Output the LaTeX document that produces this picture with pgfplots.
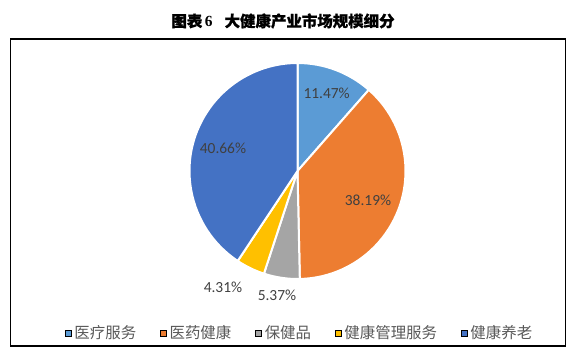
\documentclass[border=0pt]{standalone}
\usepackage{fontspec}
\setmainfont{Carlito}
\newfontfamily\cjk{Noto Sans CJK SC}
\newfontfamily\cjkt{Noto Sans CJK SC}[BoldFeatures={FakeBold=0.8}]
\newfontfamily\serifb{Liberation Serif}
\usepackage{pgfplots}
\usepackage{pgfplotstable}
\pgfplotsset{compat=1.18}
\definecolor{pie0}{HTML}{5B9BD5}
\definecolor{pie1}{HTML}{ED7D31}
\definecolor{pie2}{HTML}{A5A5A5}
\definecolor{pie3}{HTML}{FFC000}
\definecolor{pie4}{HTML}{4472C4}
\definecolor{labgray}{HTML}{404040}
\definecolor{leggray}{HTML}{595959}
\pgfplotstableread{
idx value
0 11.47
1 38.19
2 5.37
3 4.31
4 40.66
}\piedata
\begin{document}
\begin{tikzpicture}
\useasboundingbox (0bp,0bp) rectangle (573bp,352bp);
% angles from the data, clockwise from 12 o'clock
\def\acc{90}
\pgfplotsforeachungrouped \i in {0,...,4}{%
  \pgfplotstablegetelem{\i}{value}\of\piedata
  \pgfmathsetmacro\nxt{\acc-3.6*\pgfplotsretval}%
  \expandafter\xdef\csname s\i\endcsname{\acc}%
  \expandafter\xdef\csname e\i\endcsname{\nxt}%
  \global\let\acc\nxt
}
\node[font=\cjkt\bfseries\fontsize{15.5}{18}\selectfont, anchor=center] at (283bp,331bp)
  {图表\,{\serifb\bfseries 6}\hspace{12bp}大健康产业市场规模细分};
\draw[black, line width=1.3bp] (10.5bp,6bp) rectangle (565.7bp,313bp);
\begin{axis}[
  at={(297.5bp,181bp)}, anchor=origin,
  x=108bp, y=108bp,
  xmin=-1.2, xmax=1.2, ymin=-1.2, ymax=1.2,
  hide axis, clip=false,
  legend columns=5,
  legend image code/.code={\fill[#1] (0bp,-3bp) rectangle (6bp,3bp);},
  legend style={at={(axis cs:0.02,-1.5)}, anchor=center, draw=none, fill=none,
    font=\cjk\fontsize{15.5}{18}\selectfont, text=leggray, inner sep=0pt,
    /tikz/every even column/.append style={column sep=22bp},
    /tikz/every odd column/.append style={column sep=1bp}},
]
\pgfplotsinvokeforeach{0,...,4}{%
  \fill[fill=pie#1, draw=white, line width=2bp, line join=round]
    (axis cs:0,0) -- (axis cs:{cos(\csname s#1\endcsname)},{sin(\csname s#1\endcsname)})
    arc[start angle=\csname s#1\endcsname, end angle=\csname e#1\endcsname, radius=108bp] -- cycle;
}
\addlegendimage{fill=pie0}\addlegendentry{医疗服务}
\addlegendimage{fill=pie1}\addlegendentry{医药健康}
\addlegendimage{fill=pie2}\addlegendentry{保健品}
\addlegendimage{fill=pie3}\addlegendentry{健康管理服务}
\addlegendimage{fill=pie4}\addlegendentry{健康养老}
\begin{scope}[every node/.style={font=\fontsize{15.5}{18}\selectfont, text=labgray}]
\node at (axis cs:0.27,0.72) {11.47\%};
\node at (axis cs:0.653,-0.269) {38.19\%};
\node at (axis cs:-0.69,0.213) {40.66\%};
\node at (axis cs:-0.69,-1.074) {4.31\%};
\node at (axis cs:-0.19,-1.148) {5.37\%};
\end{scope}
\end{axis}
\end{tikzpicture}
\end{document}
